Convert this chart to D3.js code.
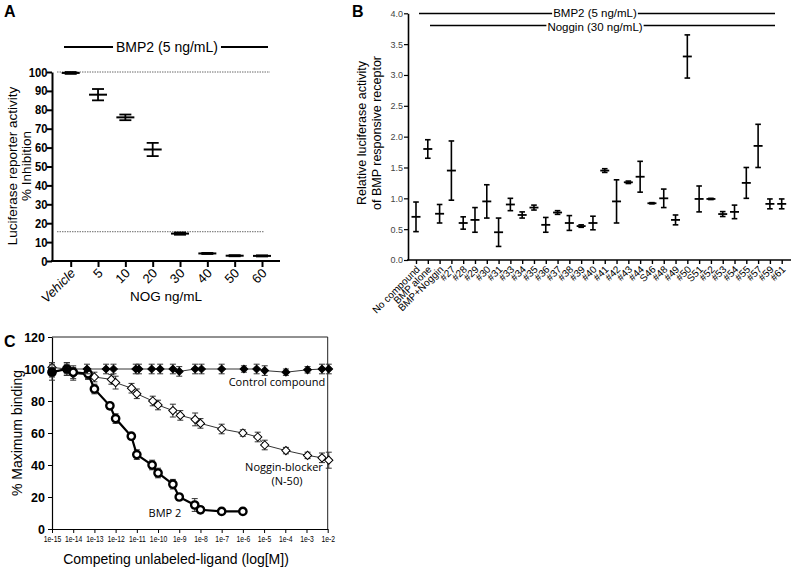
<!DOCTYPE html>
<html>
<head>
<meta charset="utf-8">
<script src="https://d3js.org/d3.v7.min.js"></script>
<style>
  body { margin: 0; background: #fff; }
  svg { font-family: "Liberation Sans", Arial, sans-serif; }
</style>
</head>
<body>
<svg width="794" height="579"></svg>
<script>
// ---- panel A data
const aCats = ["Vehicle", "5", "10", "20", "30", "40", "50", "60"];
const aMean = [99.5, 88, 76, 59, 14.5, 4, 2.8, 2.7];
const aErr = [0.5, 3, 1.5, 3.5, 0.6, 0.3, 0.3, 0.3];
const aRefLines = [100, 15.5];
const aYTicks = [0, 10, 20, 30, 40, 50, 60, 70, 80, 90, 100];

// ---- panel B data
const bCats = ["No compound", "BMP alone", "BMP+Noggin", "#27", "#28", "#29", "#30", "#31", "#33", "#34",
  "#35", "#36", "#37", "#38", "#39", "#40", "#41", "#42", "#43", "#44", "S46", "#48", "#49", "#50",
  "S51", "#52", "#53", "#54", "#55", "#57", "#59", "#61"];
const bMean = [0.70, 1.80, 0.75, 1.45, 0.60, 0.65, 0.95, 0.45, 0.90, 0.73, 0.85, 0.57, 0.77, 0.60, 0.55, 0.60,
  1.45, 0.95, 1.26, 1.35, 0.92, 1.00, 0.65, 3.30, 0.99, 0.99, 0.745, 0.78, 1.25, 1.85, 0.91, 0.91];
const bErr = [0.24, 0.15, 0.15, 0.48, 0.10, 0.20, 0.27, 0.23, 0.10, 0.05, 0.04, 0.12, 0.03, 0.12, 0.02, 0.11,
  0.03, 0.35, 0.02, 0.25, 0.01, 0.15, 0.08, 0.35, 0.21, 0.01, 0.04, 0.11, 0.25, 0.35, 0.08, 0.08];
const bYTicks = [0, 0.5, 1, 1.5, 2, 2.5, 3, 3.5, 4];

// ---- panel C data (x as log10 of molar concentration)
const ctrlLog = [-15, -14.3, -13.35, -12.45, -12.1, -11.05, -10.9, -10.3, -9.9, -9.3, -9.0, -8.25, -7.95,
  -7.0, -5.95, -5.35, -4.97, -3.97, -2.95, -2.27, -1.95];
const ctrlVal = [98, 100, 100, 100, 100, 100, 100, 100, 100, 100, 98.5, 100, 100, 100, 100, 100, 99, 98,
  99.5, 100, 100];
const ctrlErr = [5, 4, 3, 3, 3, 3, 3, 3, 3, 3, 3, 3, 3, 3, 2, 3, 3, 2, 2, 3, 3];

const nogLog = [-15, -14.3, -14, -13.3, -13, -12.2, -12, -11.25, -11, -10.25, -10, -9.3, -8.95, -8.25, -8,
  -7, -6, -5.3, -4.97, -3.97, -2.95, -2.27, -1.95];
const nogVal = [101, 100, 97, 96.5, 95, 93.5, 91.5, 88, 84.5, 80, 77.5, 74, 71, 68.5, 66, 62.5, 60, 57.5,
  52.5, 49, 46, 44.5, 43];
const nogErr = [3, 4, 4, 3, 3, 3, 4, 3, 3, 3, 3, 4, 3, 4, 3, 3, 2, 3, 3, 2, 2, 3, 5];

const bmpLog = [-15, -14.3, -14, -13.3, -13, -12.27, -12, -11.26, -11, -10.28, -10, -9.3, -9, -8.27, -8, -7, -6];
const bmpVal = [98, 100, 98, 97, 87.5, 77, 69, 58, 46.5, 40, 35, 28, 20, 15, 12, 11, 11];
const bmpErr = [3, 3, 4, 3, 3, 2, 3, 2, 3, 3, 3, 3, 2, 4, 2, 2, 2];

const cYTicks = [0, 20, 40, 60, 80, 100, 120];
const cXExp = d3.range(-15, -1);

const svg = d3.select("svg");

// panel letters
[["A", 4, 17], ["B", 352, 17], ["C", 4, 347]].forEach(p => {
  svg.append("text").attr("x", p[1]).attr("y", p[2]).text(p[0])
    .style("font-size", "16px").style("font-weight", "bold");
});

// =================== PANEL A ===================
const gA = svg.append("g");
const xA = d3.scalePoint().domain(aCats).range([70.7, 262]);
const yA = d3.scaleLinear().domain([0, 100]).range([261, 72]);

// reference dotted lines
gA.selectAll(".ref").data(aRefLines).enter().append("line")
  .attr("x1", 57).attr("x2", d => d === 100 ? 270 : 264)
  .attr("y1", d => yA(d)).attr("y2", d => yA(d))
  .attr("stroke", "#444").attr("stroke-width", 0.8).attr("stroke-dasharray", "1.5,1");

const axA = gA.append("g").attr("transform", "translate(52,0)")
  .call(d3.axisLeft(yA).tickValues(aYTicks).tickSize(5).tickSizeOuter(0));
axA.select(".domain").attr("stroke-width", 2);
axA.selectAll(".tick line").attr("stroke-width", 2);
axA.selectAll("text").style("font-size", "12.5px").style("font-weight", "bold")
  .attr("x", -5).attr("transform", "scale(0.9,1)");

const axAx = gA.append("g").attr("transform", "translate(0,261)")
  .call(d3.axisBottom(xA).tickSize(6).tickSizeOuter(0));
axAx.select(".domain").remove();
axAx.selectAll(".tick line").attr("stroke-width", 2);
axAx.selectAll("text")
  .style("font-size", "13px")
  .style("font-style", d => d === "Vehicle" ? "italic" : "normal")
  .attr("text-anchor", "end").attr("dy", 0).attr("y", 0)
  .attr("transform", "translate(5,13) rotate(-45)");
gA.append("line").attr("x1", 51).attr("x2", 280).attr("y1", 261).attr("y2", 261)
  .attr("stroke", "#000").attr("stroke-width", 2);

// error bars A
const eA = gA.selectAll(".eb").data(aCats).enter().append("g");
eA.append("line").attr("x1", d => xA(d)).attr("x2", d => xA(d))
  .attr("y1", (d, i) => yA(aMean[i] + aErr[i])).attr("y2", (d, i) => yA(aMean[i] - aErr[i]))
  .attr("stroke", "#000").attr("stroke-width", 1.8);
[1, -1].forEach(s => {
  eA.append("line").attr("x1", d => xA(d) - 6).attr("x2", d => xA(d) + 6)
    .attr("y1", (d, i) => yA(aMean[i] + s * aErr[i])).attr("y2", (d, i) => yA(aMean[i] + s * aErr[i]))
    .attr("stroke", "#000").attr("stroke-width", 1.8);
});
eA.append("line").attr("x1", d => xA(d) - 9).attr("x2", d => xA(d) + 9)
  .attr("y1", (d, i) => yA(aMean[i])).attr("y2", (d, i) => yA(aMean[i]))
  .attr("stroke", "#000").attr("stroke-width", 2);

// header A
const hA = gA.append("text").attr("x", 167).attr("y", 52).attr("text-anchor", "middle")
  .style("font-size", "14px").text("BMP2 (5 ng/mL)");
const hAw = hA.node().getComputedTextLength();
gA.append("line").attr("x1", 64).attr("x2", 167 - hAw / 2 - 3).attr("y1", 47).attr("y2", 47)
  .attr("stroke", "#000").attr("stroke-width", 2);
gA.append("line").attr("x1", 167 + hAw / 2 + 3).attr("x2", 268).attr("y1", 47).attr("y2", 47)
  .attr("stroke", "#000").attr("stroke-width", 2);

// titles A
gA.append("text").attr("transform", "translate(17,166) rotate(-90)").attr("text-anchor", "middle")
  .style("font-size", "13.5px").text("Luciferase reporter activity");
gA.append("text").attr("transform", "translate(31,166) rotate(-90)").attr("text-anchor", "middle")
  .style("font-size", "13.5px").text("% Inhibition");
gA.append("text").attr("x", 166).attr("y", 301).attr("text-anchor", "middle")
  .style("font-size", "13.5px").text("NOG ng/mL");

// =================== PANEL B ===================
const gB = svg.append("g");
const xB = d3.scalePoint().domain(bCats).range([416, 781.7]);
const yB = d3.scaleLinear().domain([0, 4]).range([260, 13.3]);

const axB = gB.append("g").attr("transform", "translate(408,0)")
  .call(d3.axisLeft(yB).tickValues(bYTicks).tickFormat(d3.format(".1f")).tickSize(4).tickSizeOuter(0));
axB.select(".domain").attr("stroke-width", 1.6);
axB.selectAll(".tick line").attr("stroke-width", 1.2);
axB.selectAll("text").style("font-size", "9px").attr("fill", "#444").attr("x", -5);

const axBx = gB.append("g").attr("transform", "translate(0,260)")
  .call(d3.axisBottom(xB).tickSize(4).tickSizeOuter(0));
axBx.select(".domain").remove();
axBx.selectAll(".tick line").attr("stroke-width", 1.4);
axBx.selectAll("text").style("font-size", "10px")
  .attr("text-anchor", "end").attr("dy", 0).attr("y", 0)
  .attr("transform", "translate(4,10) rotate(-45)");
gB.append("line").attr("x1", 407).attr("x2", 791).attr("y1", 260).attr("y2", 260)
  .attr("stroke", "#000").attr("stroke-width", 1.6);

const eB = gB.selectAll(".eb").data(bCats).enter().append("g");
eB.append("line").attr("x1", d => xB(d)).attr("x2", d => xB(d))
  .attr("y1", (d, i) => yB(bMean[i] + bErr[i])).attr("y2", (d, i) => yB(bMean[i] - bErr[i]))
  .attr("stroke", "#000").attr("stroke-width", 1.6);
[1, -1].forEach(s => {
  eB.append("line").attr("x1", d => xB(d) - 2.8).attr("x2", d => xB(d) + 2.8)
    .attr("y1", (d, i) => yB(bMean[i] + s * bErr[i])).attr("y2", (d, i) => yB(bMean[i] + s * bErr[i]))
    .attr("stroke", "#000").attr("stroke-width", 1.6);
});
eB.append("line").attr("x1", d => xB(d) - 4.5).attr("x2", d => xB(d) + 4.5)
  .attr("y1", (d, i) => yB(bMean[i])).attr("y2", (d, i) => yB(bMean[i]))
  .attr("stroke", "#000").attr("stroke-width", 1.8);

// header B
[["BMP2 (5 ng/mL)", 419, 13.5, 17], ["Noggin (30 ng/mL)", 430, 25.5, 30.5]].forEach(h => {
  const t = gB.append("text").attr("x", 595).attr("y", h[3]).attr("text-anchor", "middle")
    .style("font-size", "11.5px").text(h[0]);
  const w = t.node().getComputedTextLength();
  gB.append("line").attr("x1", h[1]).attr("x2", 595 - w / 2 - 1).attr("y1", h[2]).attr("y2", h[2])
    .attr("stroke", "#000").attr("stroke-width", 1.5);
  gB.append("line").attr("x1", 595 + w / 2 + 1).attr("x2", 775).attr("y1", h[2]).attr("y2", h[2])
    .attr("stroke", "#000").attr("stroke-width", 1.5);
});

gB.append("text").attr("transform", "translate(366,133) rotate(-90)").attr("text-anchor", "middle")
  .style("font-size", "12.5px").text("Relative luciferase activity");
gB.append("text").attr("transform", "translate(381,133) rotate(-90)").attr("text-anchor", "middle")
  .style("font-size", "12.5px").text("of BMP responsive receptor");

// =================== PANEL C ===================
const gC = svg.append("g");
const xC = d3.scaleLog().domain([1e-15, 1e-2]).range([52, 327.7]);
const yC = d3.scaleLinear().domain([0, 120]).range([529, 337]);

// frame
gC.append("path").attr("d", `M52,${yC(120)}H327.7V529`).attr("fill", "none")
  .attr("stroke", "#222").attr("stroke-width", 1);

const axC = gC.append("g").attr("transform", "translate(52,0)")
  .call(d3.axisLeft(yC).tickValues(cYTicks).tickSize(4).tickSizeOuter(0));
axC.select(".domain").attr("stroke-width", 1.2);
axC.selectAll("text").style("font-size", "12.5px").style("font-weight", "bold").attr("x", -7);

const axCx = gC.append("g").attr("transform", "translate(0,529)")
  .call(d3.axisBottom(xC).tickValues(cXExp.map(e => Math.pow(10, e)))
    .tickFormat(d => "1e" + Math.round(Math.log10(d))).tickSize(4).tickSizeOuter(0));
axCx.select(".domain").attr("stroke-width", 1.2);
axCx.selectAll("text").style("font-size", "8.5px").attr("y", 7).attr("transform", "scale(0.8,1)");

function series(logs, vals, errs, opts) {
  const pts = logs.map((l, i) => ({ x: xC(Math.pow(10, l)), y: yC(vals[i]), e: errs[i], v: vals[i] }));
  const g = gC.append("g");
  g.selectAll(".err").data(pts).enter().append("path")
    .attr("d", d => {
      const t = yC(d.v + d.e), b = yC(d.v - d.e);
      return `M${d.x - 3},${t}H${d.x + 3}M${d.x},${t}V${b}M${d.x - 3},${b}H${d.x + 3}`;
    })
    .attr("fill", "none").attr("stroke", "#333").attr("stroke-width", 1);
  g.append("path").datum(pts)
    .attr("d", d3.line().x(d => d.x).y(d => d.y))
    .attr("fill", "none").attr("stroke", "#000").attr("stroke-width", opts.lw);
  const sym = d3.symbol().type(opts.sym).size(opts.size);
  g.selectAll(".pt").data(pts).enter().append("path")
    .attr("d", sym).attr("transform", d => `translate(${d.x},${d.y})${opts.rot || ""}`)
    .attr("fill", opts.fill).attr("stroke", "#000").attr("stroke-width", opts.sw);
}

series(nogLog, nogVal, nogErr, { sym: d3.symbolSquare, size: 34, rot: " rotate(45)", fill: "#fff", sw: 1, lw: 0.8 });
series(bmpLog, bmpVal, bmpErr, { sym: d3.symbolCircle, size: 42, fill: "#fff", sw: 2.4, lw: 2.2 });
series(ctrlLog, ctrlVal, ctrlErr, { sym: d3.symbolSquare, size: 30, rot: " rotate(45)", fill: "#000", sw: 1, lw: 0.8 });

const lbl = '"Open Sans", "Noto Sans", sans-serif';
gC.append("text").attr("x", 277).attr("y", 386).attr("text-anchor", "middle")
  .style("font-size", "11px").style("font-family", lbl).text("Control compound");
gC.append("text").attr("x", 284).attr("y", 471).attr("text-anchor", "middle")
  .style("font-size", "11px").style("font-family", lbl).text("Noggin-blocker");
gC.append("text").attr("x", 287).attr("y", 485).attr("text-anchor", "middle")
  .style("font-size", "11px").style("font-family", lbl).text("(N-50)");
gC.append("text").attr("x", 165).attr("y", 517).attr("text-anchor", "middle")
  .style("font-size", "11px").style("font-family", lbl).text("BMP 2");

gC.append("text").attr("transform", "translate(22,433) rotate(-90)").attr("text-anchor", "middle")
  .style("font-size", "14px").text("% Maximum binding");
gC.append("text").attr("x", 176).attr("y", 564).attr("text-anchor", "middle")
  .style("font-size", "14px").text("Competing unlabeled-ligand (log[M])");
</script>
</body>
</html>
